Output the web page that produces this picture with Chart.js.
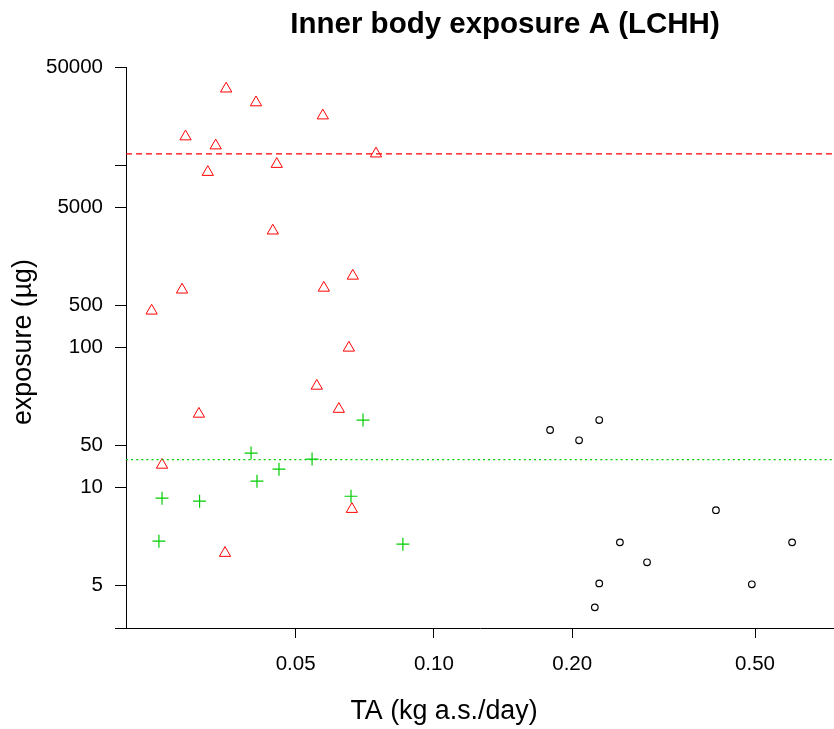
<!DOCTYPE html>
<html>
<head>
<meta charset="utf-8">
<title>Inner body exposure A (LCHH)</title>
<script src="https://cdn.jsdelivr.net/npm/chart.js@4"></script>
<style>
  body { margin: 0; background: #fff; }
  canvas { display: block; }
</style>
</head>
<body>
<canvas id="grafico" width="834" height="729"></canvas>
<script>
// dados (TA em kg a.s./dia, exposição na escala do eixo)
const triangulosTA = [0.0353, 0.0410, 0.0288, 0.0335, 0.0322, 0.0573, 0.0748, 0.0455, 0.0446, 0.0283,
                      0.0243, 0.0308, 0.0666, 0.0576, 0.0653, 0.0556, 0.0621, 0.0256, 0.0351, 0.0663];
const triangulosExposicao = [3500, 2790, 1595, 1375, 890, 2250, 1205, 1015, 340, 129,
                             91.3, 16.8, 162, 133, 49.7, 26.6, 18.2, 7.27, 1.71, 3.52];

const cruzesTA = [0.0701, 0.0400, 0.0543, 0.0460, 0.0412, 0.0256, 0.0309, 0.0252, 0.0660, 0.0856];
const cruzesExposicao = [15.2, 8.83, 8.0, 6.78, 5.57, 4.21, 4.01, 2.08, 4.35, 1.98];

const circulosTA = [0.179, 0.229, 0.207, 0.411, 0.254, 0.602, 0.291, 0.229, 0.492, 0.224];
const circulosExposicao = [12.9, 15.2, 10.9, 3.46, 2.04, 2.04, 1.47, 1.04, 1.025, 0.702];

// linhas de referência
const limiteVermelho = 1200;
const limiteVerde = 7.93;

// ticks e rótulos dos eixos (como aparecem no original)
const ticksX = [0.05, 0.1, 0.2, 0.5];
const rotulosX = ['0.05', '0.10', '0.20', '0.50'];
const ticksY = [0.5, 1, 5, 10, 50, 100, 500, 1000, 5000];
const rotulosY = ['', '5', '10', '50', '100', '500', '5000', '', '50000'];

const xMin = 0.02137;
const xMax = 0.7427;
const yMin = 0.5;
const yMax = 5000;

const titulo = 'Inner body exposure A (LCHH)';
const tituloX = 'TA (kg a.s./day)';
const tituloY = 'exposure (µg)';

const fonte = '"Liberation Sans", Arial, sans-serif';

// títulos desenhados na mesma posição do original
const textos = {
    id: 'textos',
    afterDraw(chart) {
        const ctx = chart.ctx;
        ctx.save();
        ctx.fillStyle = '#000';
        ctx.textAlign = 'center';
        ctx.textBaseline = 'alphabetic';
        ctx.font = 'bold 29.5px ' + fonte;
        ctx.fillText(titulo, 505, 33);
        ctx.font = '26.8px ' + fonte;
        ctx.fillText(tituloX, 444, 719);
        ctx.translate(31, 342);
        ctx.rotate(-Math.PI / 2);
        ctx.fillText(tituloY, 0, 0);
        ctx.restore();
    }
};

function pontos(xs, ys) {
    return xs.map((x, i) => ({ x: x, y: ys[i] }));
}

function criarGrafico() {
    const canvas = document.getElementById('grafico');
    const ctx = canvas.getContext('2d');

    new Chart(ctx, {
        type: 'scatter',
        data: {
            datasets: [
                {
                    data: [{ x: xMin, y: limiteVermelho }, { x: xMax, y: limiteVermelho }],
                    type: 'line',
                    borderColor: '#FF0000',
                    borderWidth: 1.2,
                    borderDash: [6, 4],
                    pointRadius: 0,
                    fill: false,
                },
                {
                    data: [{ x: xMin, y: limiteVerde }, { x: xMax, y: limiteVerde }],
                    type: 'line',
                    borderColor: '#00CD00',
                    borderWidth: 1.2,
                    borderDash: [2, 3.1],
                    pointRadius: 0,
                    fill: false,
                },
                {
                    data: pontos(triangulosTA, triangulosExposicao),
                    pointStyle: 'triangle',
                    pointRadius: 6.5,
                    borderColor: '#FF0000',
                    backgroundColor: 'rgba(0,0,0,0)',
                    borderWidth: 1,
                },
                {
                    data: pontos(cruzesTA, cruzesExposicao),
                    pointStyle: 'cross',
                    pointRadius: 6.5,
                    borderColor: '#00CD00',
                    backgroundColor: 'rgba(0,0,0,0)',
                    borderWidth: 1.2,
                },
                {
                    data: pontos(circulosTA, circulosExposicao),
                    pointStyle: 'circle',
                    pointRadius: 3.3,
                    borderColor: '#000',
                    backgroundColor: 'rgba(0,0,0,0)',
                    borderWidth: 1.2,
                }
            ]
        },
        options: {
            responsive: false,
            animation: false,
            devicePixelRatio: 1,
            events: [],
            layout: {
                autoPadding: false,
                padding: { top: 67, left: 0, right: 0, bottom: 0 }
            },
            plugins: {
                legend: { display: false },
                title: { display: false },
                tooltip: { enabled: false }
            },
            scales: {
                x: {
                    type: 'logarithmic',
                    min: xMin,
                    max: xMax,
                    afterBuildTicks: function (scale) {
                        scale.ticks = ticksX.map(v => ({ value: v }));
                    },
                    afterFit: function (scale) {
                        scale.height = 101;
                    },
                    ticks: {
                        autoSkip: false,
                        maxRotation: 0,
                        padding: 14,
                        color: '#000',
                        font: { size: 20.5, family: fonte },
                        callback: function (value, index) {
                            return rotulosX[index];
                        }
                    },
                    grid: { drawOnChartArea: false, tickLength: 10, color: '#000' },
                    border: { color: '#000', width: 1 }
                },
                y: {
                    type: 'logarithmic',
                    min: yMin,
                    max: yMax,
                    afterBuildTicks: function (scale) {
                        scale.ticks = ticksY.map(v => ({ value: v }));
                    },
                    afterFit: function (scale) {
                        scale.width = 126;
                    },
                    ticks: {
                        autoSkip: false,
                        padding: 12,
                        color: '#000',
                        font: { size: 20.5, family: fonte },
                        callback: function (value, index) {
                            return rotulosY[index];
                        }
                    },
                    grid: { drawOnChartArea: false, tickLength: 11, color: '#000' },
                    border: { color: '#000', width: 1 }
                }
            }
        },
        plugins: [textos]
    });
}

criarGrafico();
</script>
</body>
</html>
